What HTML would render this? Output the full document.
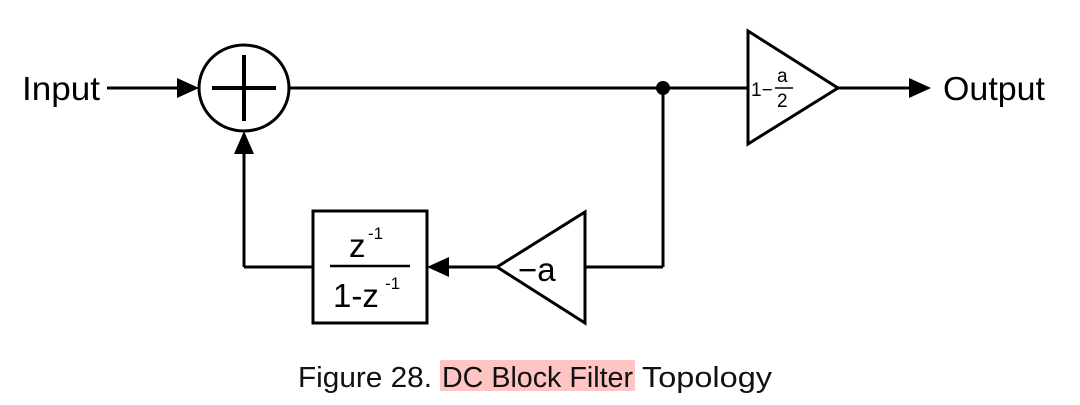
<!DOCTYPE html>
<html><head><meta charset="utf-8"><style>
html,body{margin:0;padding:0;background:#fff;}
svg{display:block;}
</style></head><body>
<svg width="1080" height="405" viewBox="0 0 1080 405" xmlns="http://www.w3.org/2000/svg" font-family="Liberation Sans, Arial, sans-serif">
<g stroke="#000" stroke-width="3" fill="none">
  <line x1="107" y1="88" x2="180" y2="88"/>
  <ellipse cx="244" cy="88" rx="45" ry="43"/>
  <line x1="212" y1="88" x2="276" y2="88" stroke-width="4"/>
  <line x1="244" y1="55" x2="244" y2="121" stroke-width="4"/>
  <line x1="289" y1="88" x2="748" y2="88"/>
  <line x1="663" y1="88" x2="663" y2="267"/>
  <line x1="585" y1="267" x2="663" y2="267"/>
  <line x1="497" y1="267" x2="445" y2="267"/>
  <line x1="313" y1="267" x2="244" y2="267"/>
  <line x1="244" y1="267" x2="244" y2="152"/>
  <rect x="313" y="211" width="114" height="112"/>
  <line x1="330" y1="266" x2="410" y2="266" stroke-width="2.5"/>
  <polygon points="497,267 585,212 585,323"/>
  <polygon points="748,31 838,88 748,144"/>
  <line x1="838" y1="88" x2="910" y2="88"/>
</g>
<g fill="#000">
  <polygon points="199,88 177,78 177,98"/>
  <polygon points="244,131 234,154 254,154"/>
  <polygon points="427,267 449,257 449,277"/>
  <polygon points="931,88 909,78 909,98"/>
  <circle cx="663" cy="88" r="7"/>
</g>
<text x="22" y="100" font-size="33" fill="#000" textLength="78" lengthAdjust="spacingAndGlyphs">Input</text>
<text x="943" y="100" font-size="33" fill="#000" textLength="102" lengthAdjust="spacingAndGlyphs">Output</text>
<text x="518" y="281" font-size="33" fill="#000">−a</text>
<text x="349" y="257" font-size="33" fill="#000">z</text>
<text x="368" y="239" font-size="17" fill="#000">-1</text>
<text x="333" y="307" font-size="33" fill="#000">1-z</text>
<text x="385" y="289" font-size="17" fill="#000">-1</text>
<text x="751" y="96" font-size="19" fill="#000">1−</text>
<text x="777" y="82" font-size="19" fill="#000">a</text>
<line x1="775" y1="88" x2="793" y2="88" stroke="#000" stroke-width="1.5"/>
<text x="777" y="107" font-size="19" fill="#000">2</text>
<rect x="440" y="360" width="195" height="31" fill="#ffc4c4"/>
<text x="298" y="387" font-size="29" fill="#111" textLength="134" lengthAdjust="spacingAndGlyphs">Figure 28.</text>
<text x="442" y="387" font-size="29" fill="#111" textLength="191" lengthAdjust="spacingAndGlyphs">DC Block Filter</text>
<text x="642" y="387" font-size="29" fill="#111" textLength="130" lengthAdjust="spacingAndGlyphs">Topology</text>
</svg>
</body></html>
